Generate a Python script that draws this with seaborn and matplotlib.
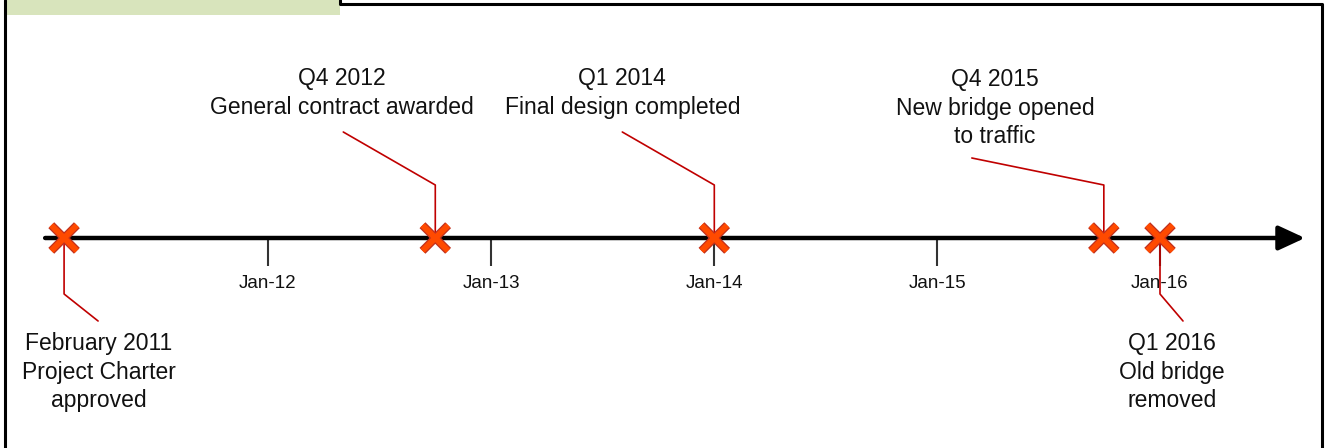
import matplotlib
matplotlib.use("Agg")
import matplotlib.pyplot as plt
import matplotlib.dates as mdates
import matplotlib.patheffects as pe
from matplotlib.patches import Rectangle
from matplotlib.lines import Line2D
import pandas as pd
import seaborn as sns

# milestones on the timeline
milestone_dates = ["2011-02-01", "2012-10-01", "2014-01-01", "2015-10-01", "2016-01-01"]
milestone_labels = [
    "February 2011\nProject Charter\napproved",
    "Q4 2012\nGeneral contract awarded",
    "Q1 2014\nFinal design completed",
    "Q4 2015\nNew bridge opened\nto traffic",
    "Q1 2016\nOld bridge\nremoved",
]
tick_dates = ["2012-01-01", "2013-01-01", "2014-01-01", "2015-01-01", "2016-01-01"]
tick_labels = ["Jan-12", "Jan-13", "Jan-14", "Jan-15", "Jan-16"]
axis_start = "2011-01-01"

# layout (pixels relative to each marker)
label_offsets = [(35, 134), (-93, -145), (-92, -145), (-109, -130), (12, 134)]
leader_paths = [
    [(0, 0), (0, 56), (34, 83)],
    [(0, 0), (0, -53), (-92, -106)],
    [(0, 0), (0, -53), (-92, -106)],
    [(0, 0), (0, -53), (-132, -80)],
    [(0, 0), (0, 56), (23, 83)],
]

W, H = 1325, 448
LINE_Y = 238
px_per_day = (1160 - 268) / 1461.0
x_left = mdates.date2num(pd.Timestamp("2012-01-01")) - 268 / px_per_day
x_right = x_left + W / px_per_day

sns.set_theme(style="white")
plt.rcParams["font.family"] = ["Liberation Sans", "DejaVu Sans"]

fig = plt.figure(figsize=(W / 100, H / 100), dpi=100)
ax = fig.add_axes([0, 0, 1, 1])

df = pd.DataFrame({"date": pd.to_datetime(milestone_dates), "label": milestone_labels})
df["x"] = mdates.date2num(df["date"])
df["lane"] = LINE_Y

# main timeline with arrow
x_end = x_left + 1305 / px_per_day
ax.annotate("", xy=(x_end, LINE_Y), xytext=(mdates.date2num(pd.Timestamp(axis_start)), LINE_Y),
            arrowprops=dict(arrowstyle="-|>,head_length=0.8,head_width=0.37", lw=3.2,
                            color="black", shrinkA=0, shrinkB=0, mutation_scale=20),
            zorder=2)

# year ticks
tx = mdates.date2num(pd.to_datetime(tick_dates))
ax.vlines(tx, LINE_Y + 2, LINE_Y + 28, color="#333333", lw=1.5, zorder=1)
for x, t in zip(tx, tick_labels):
    ax.text(x, LINE_Y + 46, t, ha="center", va="center", fontsize=13.5, color="#111111")

# leader lines and labels
for (_, row), (dx, dy), path in zip(df.iterrows(), label_offsets, leader_paths):
    xs = [row["x"] + px / px_per_day for px, _ in path]
    ys = [LINE_Y + py for _, py in path]
    ax.plot(xs, ys, color="#c00000", lw=1.2, zorder=3)
    ax.text(row["x"] + dx / px_per_day, LINE_Y + dy, row["label"], ha="center", va="center",
            fontsize=16.5, linespacing=1.32, color="#111111")

sns.scatterplot(data=df, x="x", y="lane", marker="x", s=340, color="#ff4a00",
                linewidth=4.2, zorder=5, ax=ax, legend=False)
ax.collections[-1].set_path_effects([pe.Stroke(linewidth=6.0, foreground="#c0301e"), pe.Normal()])
ax.set_xlim(x_left, x_right)
ax.set_ylim(H, 0)
ax.axis("off")

# tab-like frame around the chart
fig.add_artist(Rectangle((6 / W, 1 - 15 / H), 334 / W, 15 / H, transform=fig.transFigure,
                         facecolor="#d8e4bc", edgecolor="none"))
frame_kw = dict(transform=fig.transFigure, color="black", lw=2.2)
fig.add_artist(Line2D([5 / W, 5 / W], [0, 1], **frame_kw))
fig.add_artist(Line2D([340 / W, 340 / W, 1322 / W, 1322 / W], [1, 1 - 4 / H, 1 - 4 / H, 0], **frame_kw))

fig.savefig("out.png", dpi=100)
